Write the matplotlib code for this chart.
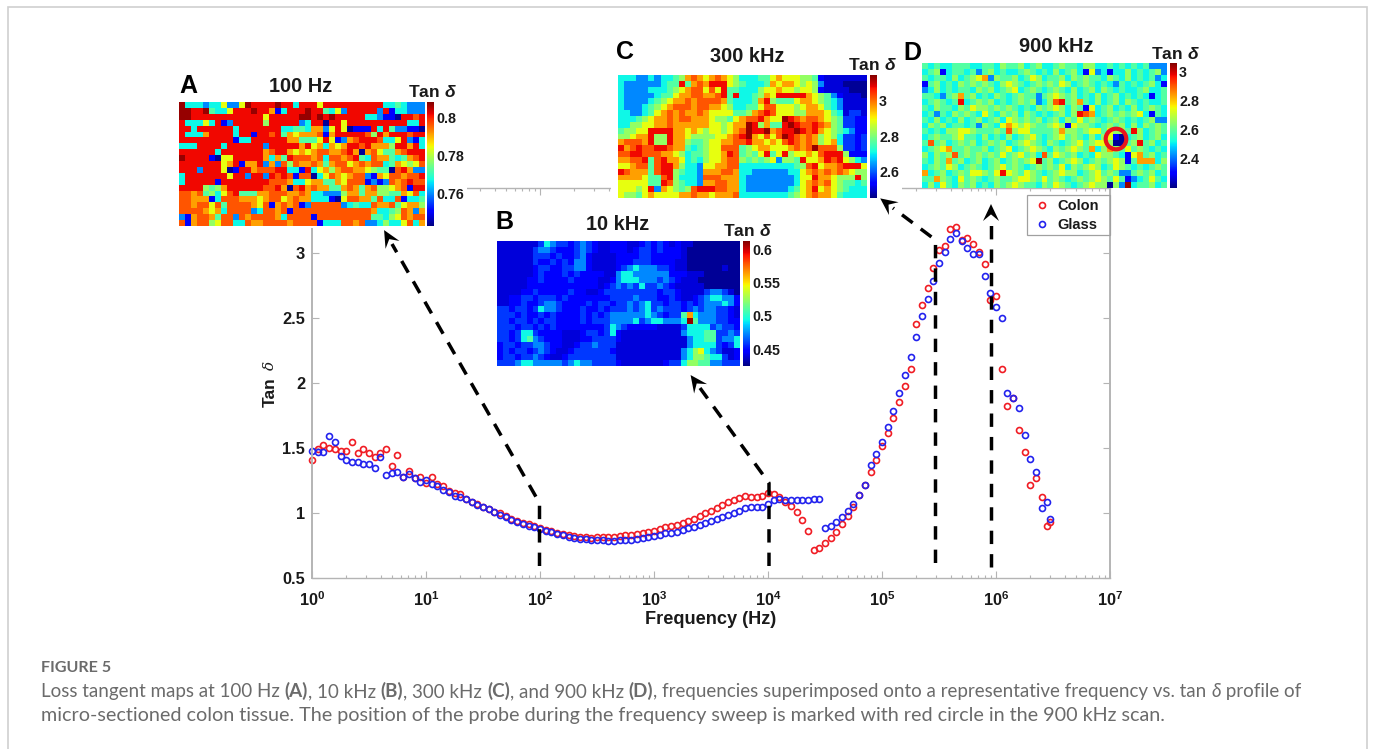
import matplotlib
matplotlib.use("Agg")
import matplotlib.pyplot as plt
import numpy as np
from matplotlib.patches import Rectangle, Polygon, Circle
from matplotlib.ticker import LogLocator, NullFormatter, FixedLocator, FixedFormatter

plt.rcParams['font.family'] = ['Liberation Sans', 'DejaVu Sans']
plt.rcParams['mathtext.fontset'] = 'custom'
plt.rcParams['mathtext.rm'] = 'Liberation Sans:bold'
plt.rcParams['mathtext.bf'] = 'Liberation Sans:bold'
plt.rcParams['mathtext.it'] = 'Liberation Sans:italic:bold'
plt.rcParams['mathtext.bfit'] = 'Liberation Sans:italic:bold'

FREQ = [
 1.0,1.12,1.26,1.41,1.58,1.78,2.0,2.24,2.51,2.82,3.16,3.55,3.98,4.47,5.01,5.62,6.31,7.08,7.94,8.91,
 10,11.2,12.6,14.1,15.8,17.8,20,22.4,25.1,28.2,31.6,35.5,39.8,44.7,50.1,56.2,63.1,70.8,79.4,89.1,
 100,112,126,141,158,178,200,224,251,282,316,355,398,447,501,562,631,708,794,891,
 1000,1120,1260,1410,1580,1780,2000,2240,2510,2820,3160,3550,3980,4470,5010,5620,6310,7080,7940,8910,
 10000,11200,12600,14100,15800,17800,20000,22400,25100,28200,31600,35500,39800,44700,50100,56200,63100,70800,79400,89100,
 100000,112000,126000,141000,158000,178000,200000,224000,251000,282000,316000,355000,398000,447000,501000,562000,631000,708000,794000,891000,
 1000000,1120000,1260000,1410000,1580000,1780000,2000000,2240000,2510000,2820000,3000000]

COLON = [
 1.41,1.49,1.52,1.50,1.49,1.48,1.475,1.545,1.46,1.49,1.46,1.43,1.46,1.49,1.36,1.45,1.28,1.32,1.27,1.28,
 1.23,1.275,1.22,1.21,1.17,1.155,1.145,1.11,1.085,1.067,1.047,1.03,1.01,.997,.974,.951,.941,.926,.915,.897,
 .885,.867,.859,.849,.836,.831,.823,.818,.813,.81,.813,.815,.815,.818,.823,.828,.833,.836,.844,.854,
 .864,.879,.892,.90,.908,.92,.938,.956,.974,1.003,1.018,1.041,1.064,1.082,1.103,1.118,1.133,1.126,1.123,1.133,
 1.151,1.146,1.126,1.087,1.054,1.005,.946,.859,.715,.733,.769,.81,.856,.915,.977,1.049,1.136,1.213,1.315,1.408,
 1.513,1.618,1.733,1.856,1.977,2.105,2.451,2.6,2.728,2.887,3.02,3.054,3.182,3.197,3.097,3.118,3.069,3.008,2.913,2.636,
 2.672,2.11,1.826,1.887,1.638,1.469,1.218,1.267,1.123,.90,.931]

GLASS = [
 1.48,1.47,1.47,1.59,1.55,1.44,1.41,1.39,1.39,1.38,1.38,1.35,1.43,1.295,1.305,1.315,1.28,1.30,1.27,1.24,
 1.255,1.22,1.21,1.18,1.16,1.13,1.12,1.11,1.085,1.065,1.045,1.03,1.01,.987,.967,.946,.931,.918,.903,.89,
 .879,.864,.851,.841,.831,.818,.81,.803,.797,.795,.79,.79,.787,.787,.79,.792,.792,.797,.805,.815,
 .823,.833,.844,.844,.856,.872,.882,.895,.91,.926,.938,.956,.972,.985,.997,1.018,1.036,1.046,1.049,1.049,
 1.069,1.10,1.11,1.103,1.10,1.10,1.10,1.103,1.105,1.105,.887,.903,.931,.969,1.018,1.072,1.136,1.213,1.367,1.451,
 1.549,1.662,1.787,1.921,2.062,2.2,2.356,2.513,2.646,2.785,2.926,3.01,3.108,3.154,3.09,3.036,2.995,2.99,2.82,2.69,
 2.585,2.5,1.926,1.887,1.81,1.603,1.415,1.315,1.038,1.082,.956]

# colour level codes of the map cells -> position on the jet scale
LEVELS = {'0':.02,'z':.08,'1':.125,'y':.18,'2':.26,'3':.37,'4':.45,'5':.53,'6':.63,'7':.74,'8':.82,'9':.90,'a':.98}

MAP_A = """a333233622 6a9999a993 9996999999 9999334322 2
aa99a43369 99a9971399 9a99436299 9992913322 2
aa99999999 9999699999 aa9a9a9999 9332110998 9
9333639129 9999599999 2399099699 9999999933 9
9939999993 9999999334 4377269601 1193942211 0
9333799993 9919989476 7778179999 9859799989 9
9999999991 3399999977 4446961278 9998336921 3
3339999399 9999299999 7967376799 8977759979 3
9999993999 9999789976 7678877897 0786447899 9
a999910669 9999737498 8878388789 4387743478 9
9999999679 1779272858 7787478867 8788347656 8
9992999601 9978889933 1936757887 7654408972 2
3999999969 9299298981 8803687678 8217688788 9
3999991999 9999988873 3677447688 8121287898 8
9999545799 9999889708 9787744787 4785567819 9
8878453689 4447788877 8733222577 4775544768 3
8877713888 7776788678 7733310688 7748338133 4
8878868488 8876817878 1288888234 3387784677 5
8888767388 8823887818 8888888888 8873345872 7
2178874882 8788887388 8818888888 8844356878 8
8178856883 3877888878 8881333887 8223533683 7"""

MAP_B = """zzzzzzzy32 yy1y2y1zz1 11zz1y1y1z 1zz0000000 0
zzzzzzy22y 111y2y1zz1 11z1yy1y11 1z00000000 0
zzzzzzyyy1 y11y21zzzz 1111yy1111 1z00000000 0
zzzzzzy11y 1y1221zzzz 111yyy1111 zz00000000 0
zzzzzz1yy1 1yy221zzzz 1y23222yy1 zz000000z0 0
zzzzzz1y11 1y1y1111zz 2332222221 11zzz00000 0
zzzzz11y11 11y1111zz1 2333222y2y 1zzz000000 0
zzzzz11111 1111111z1y 2y2y3yy2y1 zzzzz00000 0
zzzz11y111 11y11zz1yy yyyyyyy1yy 1zzzzy22yz 0
zz11yy1yyy 1y1111111y yyy2yyy11y 1zz1y23322 1
zz11y11y22 y1111y1yy1 yy2y23yy1y y1y1y22232 1
yy1yy1y322 y111y11y1y yy2y23y2yy y1y2y22yy1 z
yyy1y11y1y 1111y1y1y2 2222232y1y y473222yy1 z
yy1yy1y1yy 1111y1yyy2 2223y23322 23a4222yy1 1
yyy1yy1y1y 11111111y3 2y11111zzz zy3333y2yy 1
yy1y33y111 1zzz1yy1y3 1zzzzzzzzz z233344yy2 y
yy1y342y11 1zzz11yyyy 1zzzzzzzzz zz23344y22 3
1yy1yy22y1 1zz1yy2yyy zzzzzzzzzz zz23333y1y 3
1y1yy1y2y1 zz1yyyyyy1 zzzzzzzzzz z235632yzz 1
1yy1yy2y1z z1yyyyyyyy zzzzzzzzzz z235543 3yz 1
yyy2332222 2y2322yyyy 1zzzzzzz1y y355442 2yy y"""

MAP_C = """3332232334 5787678765 3334467666 5541zzzzzz z
3222222344 9478799965 4333476776 5652zzz000 0
3222233345 6788686944 3335667665 6651zzzz00 0
3222223446 7788778949 3345769999 9765421zzz 0
3222234567 7878888743 3347954446 7765432zzz z
3222345678 8878877653 3446886665 6776432zzz z
3322346787 8778766664 4578986665 5777643zyy z
3334567787 8877765546 7889766a98 7887654yy1 1
3355667787 7777766567 7a957449a9 8898754yy1 1
4556699997 7676566567 8a99a7899a 9897654321 1
5567795597 7655556678 9a76868a98 7875653yy1 y
7888795597 7544566778 8977676898 7875673yy1 y
9789889987 7434566888 4567766678 78a8885yy1 y
8899888776 5344566798 4546946956 6768999511 1
7788948977 6343566788 5454562554 9667989653 2
6678848997 5332667788 3333333334 5896778999 6
9877748995 4332777887 3322222233 6787878765 5
7777644895 3332888777 3222222223 6697765559 5
6666644985 4332778877 3222222223 6787865443 4
6665692765 4589998877 3222222234 6796765433 3
6554676666 7787767778 3333333345 6787764333 3"""

MAP_D = """4343344433 4435445345 3345443553 3434343422 2
3451344342 4534334543 4353453162 3133534345 2
4344353456 7254453465 3445354544 3543534342 3
1453435454 5435654345 4546534543 4324343453 1
2353434435 4534563454 3454353453 5434334533 4
4432457453 4354345442 4565453435 3453434313 4
3454349345 4534345452 3589457435 3453543433 4
4354435465 5454543435 4565354163 4534353454 3
3424354543 6435453543 4345359873 4545456314 3
4353435345 3453654545 3453546454 3454343452 2
3545344342 5436765654 4565165543 4545353545 4
4343556654 4454856644 4457554566 4655495345 4
3454456443 5343534564 3456454353 5610345345 3
4845345453 4545345654 3543456456 6500459453 4
3456744544 5345634565 4354565473 5754645434 3
5354584545 4546456453 8465453436 5543167453 4
4354745345 345345456a 4534565345 4565147773 5
3454653454 3456454345 4546354565 3465434345 4
7345345466 5469654654 3456553456 4542245453 4
4475436454 3454456654 6454345456 5464123464 3
3536435453 4354565443 5465434565 5052a34453 4"""

FREQ_TICKS = [1, 10, 100, 1000, 10000, 100000, 1000000, 10000000]
FREQ_TICK_LABELS = ['0','1','2','3','4','5','6','7']
TAN_TICKS = [0.5, 1, 1.5, 2, 2.5, 3, 3.5]
TAN_TICK_LABELS = ['0.5','1','1.5','2','2.5','3','']

PANELS = [
    dict(name='A', title='100 Hz', data=MAP_A, vmin=0.743, vmax=0.808, ticks=[0.76,0.78,0.8], fmt='%.2g',
         box=(179,424,102,226), cb=(427,434), tit=(301,86), tan=(433,92), let=(188,86)),
    dict(name='B', title='10 kHz', data=MAP_B, vmin=0.425, vmax=0.612, ticks=[0.45,0.5,0.55,0.6], fmt='%.3g',
         box=(497,740,241,366), cb=(743,750), tit=(618,224), tan=(748,231), let=(504,222)),
    dict(name='C', title='300 kHz', data=MAP_C, vmin=2.45, vmax=3.146, ticks=[2.6,2.8,3.0], fmt='%.3g',
         box=(618,867,75,198), cb=(870,877), tit=(747,57), tan=(873,65), let=(625,52)),
    dict(name='D', title='900 kHz', data=MAP_D, vmin=2.2, vmax=3.06, ticks=[2.4,2.6,2.8,3.0], fmt='%.3g',
         box=(922,1167,63,188), cb=(1170,1177), tit=(1056,47), tan=(1176,54), let=(912,53)),
]

W, H = 1375, 749
fig = plt.figure(figsize=(W/100, H/100), dpi=100, facecolor='white')

def pxaxes(x0, x1, y0, y1, **kw):
    return fig.add_axes([x0/W, 1-y1/H, (x1-x0)/W, (y1-y0)/H], **kw)

GREY = '#b4b4b4'
INK = '#1a1a1a'
ax = pxaxes(312, 1110, 188, 578, zorder=1)
ax.set_xscale('log')
ax.set_xlim(1, 1e7)
ax.set_ylim(0.5, 3.5)
ax.plot(FREQ, COLON, 'o', ms=4.3, mfc='none', mec='#f01c24', mew=1.2, label='Colon', clip_on=False)
ax.plot(FREQ, GLASS, 'o', ms=4.3, mfc='none', mec='#2222ee', mew=1.2, label='Glass', clip_on=False)
ax.xaxis.set_major_locator(FixedLocator(FREQ_TICKS))
ax.xaxis.set_major_formatter(FixedFormatter([r'$\mathbf{10^{%s}}$' % s for s in FREQ_TICK_LABELS]))
ax.xaxis.set_minor_locator(LogLocator(base=10, subs=range(2, 10), numticks=20))
ax.xaxis.set_minor_formatter(NullFormatter())
ax.yaxis.set_major_locator(FixedLocator(TAN_TICKS))
ax.yaxis.set_major_formatter(FixedFormatter(TAN_TICK_LABELS))
ax.tick_params(which='major', direction='in', top=True, right=True, length=5, width=0.8, color=GREY, labelsize=11.8, labelcolor=INK, pad=5)
ax.tick_params(axis='x', which='major', pad=8.5)
ax.tick_params(which='minor', direction='in', top=True, right=False, length=2.5, width=0.8, color=GREY)
for lab in ax.get_xticklabels() + ax.get_yticklabels():
    lab.set_fontweight('bold')
for s, sp in ax.spines.items():
    sp.set_color(GREY)
    sp.set_linewidth(1.4 if s in ('left', 'right') else 1.0)
ax.set_xlabel('Frequency (Hz)', fontsize=13.1, fontweight='bold', color=INK, labelpad=2)
leg = ax.legend(loc='upper left', bbox_to_anchor=((1027-312)/798, 1-(196.5-188)/390), borderaxespad=0, frameon=False,
                prop=dict(size=10.5, weight='bold'), handletextpad=0.2,
                labelspacing=0.32, borderpad=0.2, handlelength=1.7)
for t in leg.get_texts():
    t.set_color(INK)

# pixel-space overlay for paste-over blanks, arrows, labels and caption
ov = fig.add_axes([0, 0, 1, 1], zorder=2, facecolor='none')
ov.set_xlim(0, W); ov.set_ylim(H, 0); ov.axis('off')
ov.add_patch(Rectangle((170, 68), 297, 160, fc='white', ec='none'))
ov.add_patch(Rectangle((611, 40), 291, 160, fc='white', ec='none'))
ov.add_patch(Rectangle((280, 180), 32, 16, fc='white', ec='none'))
ov.add_patch(Rectangle((1027, 195), 83, 40, fc='none', ec='#a0a0a0', lw=0.9))
ov.plot([8, 8, 1367, 1367], [H, 7, 7, H], color='#cfcfcf', lw=1.2, solid_joinstyle='miter')

def dashed_arrow(path, head_len=16, head_w=8):
    xs, ys = zip(*path)
    ov.plot(xs, ys, color='black', lw=2.5, ls=(0, (3.85, 2.9)), dash_capstyle='butt', solid_joinstyle='miter')
    a = np.array(path[-2], float); b = np.array(path[-1], float)
    u = (b - a) / np.hypot(*(b - a)); n = np.array([-u[1], u[0]])
    tip = b + u * head_len
    ov.add_patch(Polygon([tip, b + n*head_w - u*1, b + u*head_len*0.35, b - n*head_w - u*1], fc='black', ec='none'))

dashed_arrow([(539.5, 566), (539.5, 503), (392, 244)])
dashed_arrow([(769, 566), (769, 483), (700, 388)])
dashed_arrow([(935.5, 563), (935.5, 240), (893, 208)])
dashed_arrow([(991, 567), (991, 220)])

ov.text(270, 392, 'Tan', rotation=90, ha='center', va='center', fontsize=12.6, fontweight='bold', color=INK)
ov.text(270, 365, 'δ', rotation=90, ha='center', va='center', fontsize=11, style='italic', color=INK,
        family=['DejaVu Serif', 'DejaVu Sans'])

for p in PANELS:
    rows = [r.replace(' ', '') for r in p['data'].split('\n')]
    grid = np.array([[p['vmin'] + LEVELS[c]*(p['vmax']-p['vmin']) for c in r.ljust(41, r[-1])[:41]] for r in rows])
    x0, x1, y0, y1 = p['box']
    a = pxaxes(x0, x1, y0, y1, zorder=3)
    im = a.imshow(grid, cmap='jet', vmin=p['vmin'], vmax=p['vmax'], aspect='auto', interpolation='nearest')
    a.set_xticks([]); a.set_yticks([])
    for sp in a.spines.values():
        sp.set_visible(False)
    cax = pxaxes(p['cb'][0], p['cb'][1], y0, y1, zorder=3)
    cb = fig.colorbar(im, cax=cax, ticks=p['ticks'])
    cb.outline.set_visible(False)
    cb.ax.tick_params(length=0, pad=1.5)
    cb.ax.set_yticklabels([p['fmt'] % v for v in p['ticks']], fontsize=10.3, fontweight='bold', color=INK)
    ov.text(*p['tit'], p['title'], ha='center', va='center', fontsize=14.4, fontweight='bold', color=INK)
    ov.text(*p['let'], p['name'], ha='center', va='center', fontsize=18, fontweight='bold', color='black')
    ov.text(*p['tan'], r'$\mathrm{Tan}\ \mathbfit{\delta}$', ha='center', va='center', fontsize=12.6, color=INK)

top = fig.add_axes([0, 0, 1, 1], zorder=4, facecolor='none')
top.set_xlim(0, W); top.set_ylim(H, 0); top.axis('off')
top.add_patch(Circle((1116, 139), 10.3, fc='none', ec='#e8141c', lw=3.0))

# caption
CAP = '#6b6b6b'
CAPFONT = ['Lato', 'DejaVu Sans']
top.text(41, 668, 'FIGURE 5', ha='left', va='center', fontsize=11.6, fontweight='bold', color=CAP, family=CAPFONT)
renderer = fig.canvas.get_renderer()
def pieces(y, items, size):
    x = 41.0
    for txt, kw in items:
        t = top.text(x, y, txt, ha='left', va='baseline', fontsize=size, color=CAP, family=CAPFONT, **kw)
        x = t.get_window_extent(renderer).x1
    return x
B = dict(fontweight='bold')
pieces(697, [('Loss tangent maps at 100 Hz ', {}), ('(A)', B), (', 10 kHz ', {}), ('(B)', B), (', 300 kHz ', {}), ('(C)', B),
             (', and 900 kHz ', {}), ('(D)', B), (', frequencies superimposed onto a representative frequency vs. tan ', {}),
             ('δ', dict(style='italic')), (' profile of', {})], 13.5)
pieces(721, [('micro-sectioned colon tissue. The position of the probe during the frequency sweep is marked with red circle in the 900 kHz scan.', {})], 14.2)

fig.savefig('out.png', dpi=100, facecolor='white')
